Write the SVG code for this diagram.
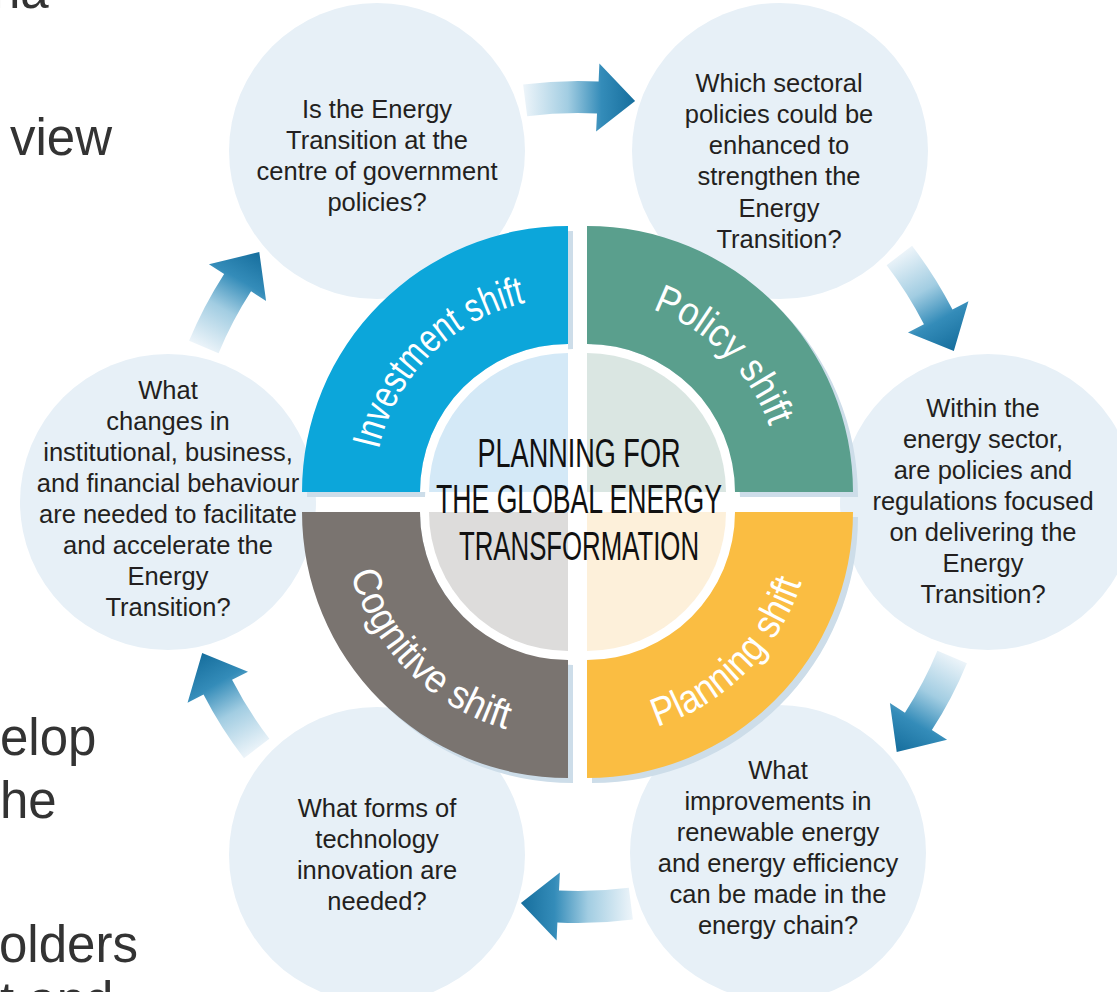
<svg xmlns="http://www.w3.org/2000/svg" xmlns:xlink="http://www.w3.org/1999/xlink" width="1117" height="992" viewBox="0 0 1117 992">
<style>
.bg{font-family:"Liberation Sans",Arial,sans-serif;font-size:51px;fill:#333333}
.q{fill:#e7f0f7}
.qt{font-family:"Liberation Sans",Arial,sans-serif;font-size:25.5px;fill:#231f20;text-anchor:middle}
.shadow{fill:#cddde9}
.white{fill:#ffffff}
.lbl{font-family:"Liberation Sans",Arial,sans-serif;font-size:40px;fill:#ffffff;text-anchor:middle}
.title{font-family:"Liberation Sans",Arial,sans-serif;font-size:41px;fill:#111111;text-anchor:middle}
</style>
<defs>
<linearGradient id="ag" gradientUnits="userSpaceOnUse" x1="523" y1="100" x2="635" y2="100">
<stop offset="0" stop-color="#eef5fa"/>
<stop offset="0.4" stop-color="#a2cde2"/>
<stop offset="0.7" stop-color="#348cb9"/>
<stop offset="1" stop-color="#166e9d"/>
</linearGradient>
<path id="arrow" d="M523.1,84.6 A421,421 0 0,1 598.6,81.5 L599.4,63.5 L635.1,101 L596.1,131.4 L597,113.5 A389,389 0 0,0 527.2,116.3 Z" fill="url(#ag)"/>
<path id="arcInv" d="M374,492 A194,194 0 0,1 568,298"/>
<path id="arcPol" d="M587,298 A194,194 0 0,1 781,492"/>
<path id="arcCog" d="M342,512 A226,226 0 0,0 568,738"/>
<path id="arcPla" d="M587,738 A226,226 0 0,0 813,512"/>
</defs>
<rect width="1117" height="992" fill="#ffffff"/>
<g id="background-text">
<text class="bg" x="-8" y="8">na</text>
<text class="bg" x="10" y="155">view</text>
<text class="bg" x="0" y="755">elop</text>
<text class="bg" x="0" y="818">he</text>
<text class="bg" x="-1" y="962">olders</text>
<text class="bg" x="0" y="1018">t and</text>
</g>
<g id="q1">
<circle class="q" cx="377" cy="151" r="148"/>
<text class="qt"><tspan x="377" y="118">Is the Energy</tspan><tspan x="377" y="149">Transition at the</tspan><tspan x="377" y="180">centre of government</tspan><tspan x="377" y="211">policies?</tspan></text>
</g>
<g id="q2">
<circle class="q" cx="780" cy="151" r="148"/>
<text class="qt"><tspan x="779" y="92">Which sectoral</tspan><tspan x="779" y="123">policies could be</tspan><tspan x="779" y="154">enhanced to</tspan><tspan x="779" y="185">strengthen the</tspan><tspan x="779" y="217">Energy</tspan><tspan x="779" y="248">Transition?</tspan></text>
</g>
<g id="q3">
<circle class="q" cx="988" cy="502" r="148"/>
<text class="qt"><tspan x="983" y="417">Within the</tspan><tspan x="983" y="448">energy sector,</tspan><tspan x="983" y="479">are policies and</tspan><tspan x="983" y="510">regulations focused</tspan><tspan x="983" y="541">on delivering the</tspan><tspan x="983" y="572">Energy</tspan><tspan x="983" y="603">Transition?</tspan></text>
</g>
<g id="q4">
<circle class="q" cx="778" cy="853" r="148"/>
<text class="qt"><tspan x="778" y="779">What</tspan><tspan x="778" y="810">improvements in</tspan><tspan x="778" y="841">renewable energy</tspan><tspan x="778" y="872">and energy efficiency</tspan><tspan x="778" y="903">can be made in the</tspan><tspan x="778" y="934">energy chain?</tspan></text>
</g>
<g id="q5">
<circle class="q" cx="377" cy="855" r="148"/>
<text class="qt"><tspan x="377" y="817">What forms of</tspan><tspan x="377" y="848">technology</tspan><tspan x="377" y="879">innovation are</tspan><tspan x="377" y="910">needed?</tspan></text>
</g>
<g id="q6">
<circle class="q" cx="168" cy="502" r="148"/>
<text class="qt"><tspan x="168" y="399">What</tspan><tspan x="168" y="430">changes in</tspan><tspan x="168" y="461">institutional, business,</tspan><tspan x="168" y="492">and financial behaviour</tspan><tspan x="168" y="523">are needed to facilitate</tspan><tspan x="168" y="554">and accelerate the</tspan><tspan x="168" y="585">Energy</tspan><tspan x="168" y="616">Transition?</tspan></text>
</g>
<g id="connectors">
<use xlink:href="#arrow"/>
<use xlink:href="#arrow" transform="rotate(60 578 502)"/>
<use xlink:href="#arrow" transform="rotate(120 578 502)"/>
<use xlink:href="#arrow" transform="rotate(180 578 502)"/>
<use xlink:href="#arrow" transform="rotate(240 578 502)"/>
<use xlink:href="#arrow" transform="rotate(300 578 502)"/>
</g>
<g id="investment-shift">
<path class="shadow" transform="translate(5,5)" d="M302,492 A266,266 0 0,1 568,226 L568,344 A148,148 0 0,0 420,492 Z"/>
<path class="white" d="M568,492 L420,492 A148,148 0 0,1 568,344 Z"/>
<path fill="#0ca6da" d="M302,492 A266,266 0 0,1 568,226 L568,344 A148,148 0 0,0 420,492 Z"/>
<path fill="#d4e9f7" d="M568,492 L429,492 A139,139 0 0,1 568,353 Z"/>
<text class="lbl"><textPath xlink:href="#arcInv" startOffset="50%" textLength="219" lengthAdjust="spacingAndGlyphs">Investment shift</textPath></text>
</g>
<g id="policy-shift">
<path class="shadow" transform="translate(5,5)" d="M587,226 A266,266 0 0,1 853,492 L735,492 A148,148 0 0,0 587,344 Z"/>
<path class="white" d="M587,492 L587,344 A148,148 0 0,1 735,492 Z"/>
<path fill="#5a9f8d" d="M587,226 A266,266 0 0,1 853,492 L735,492 A148,148 0 0,0 587,344 Z"/>
<path fill="#dae6e2" d="M587,492 L587,353 A139,139 0 0,1 726,492 Z"/>
<text class="lbl"><textPath xlink:href="#arcPol" startOffset="50%" textLength="171" lengthAdjust="spacingAndGlyphs">Policy shift</textPath></text>
</g>
<g id="cognitive-shift">
<path class="shadow" transform="translate(5,5)" d="M302,512 L420,512 A148,148 0 0,0 568,660 L568,778 A266,266 0 0,1 302,512 Z"/>
<path class="white" d="M568,512 L420,512 A148,148 0 0,0 568,660 Z"/>
<path fill="#7a7470" d="M302,512 L420,512 A148,148 0 0,0 568,660 L568,778 A266,266 0 0,1 302,512 Z"/>
<path fill="#dddcdb" d="M568,512 L429,512 A139,139 0 0,0 568,651 Z"/>
<text class="lbl"><textPath xlink:href="#arcCog" startOffset="50%" textLength="230" lengthAdjust="spacingAndGlyphs">Cognitive shift</textPath></text>
</g>
<g id="planning-shift">
<path class="shadow" transform="translate(5,5)" d="M853,512 A266,266 0 0,1 587,778 L587,660 A148,148 0 0,0 735,512 Z"/>
<path class="white" d="M587,512 L735,512 A148,148 0 0,1 587,660 Z"/>
<path fill="#fabd42" d="M853,512 A266,266 0 0,1 587,778 L587,660 A148,148 0 0,0 735,512 Z"/>
<path fill="#fdf0da" d="M587,512 L726,512 A139,139 0 0,1 587,651 Z"/>
<text class="lbl"><textPath xlink:href="#arcPla" startOffset="50%" textLength="212" lengthAdjust="spacingAndGlyphs">Planning shift</textPath></text>
</g>
<g id="title">
<text class="title" x="579" y="467" textLength="203" lengthAdjust="spacingAndGlyphs">PLANNING FOR</text>
<text class="title" x="579" y="513" textLength="286" lengthAdjust="spacingAndGlyphs">THE GLOBAL ENERGY</text>
<text class="title" x="579" y="560" textLength="240" lengthAdjust="spacingAndGlyphs">TRANSFORMATION</text>
</g>
</svg>
